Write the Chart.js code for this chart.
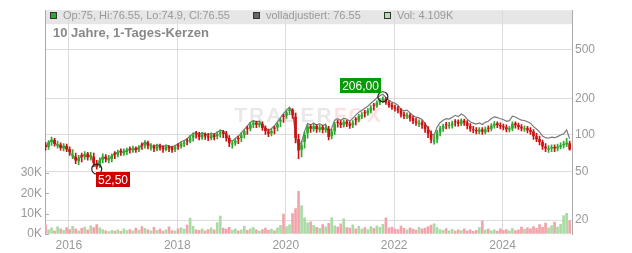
<!DOCTYPE html>
<html>
<head>
<meta charset="utf-8">
<script src="https://cdn.jsdelivr.net/npm/chart.js@4.4.1/dist/chart.umd.min.js"></script>
<style>
  body { margin: 0; background: #fff; }
  #wrap { position: relative; width: 632px; height: 253px; font-family: 'Liberation Sans', Arial, sans-serif; }
  #c { position: absolute; left: 0; top: 0; }
  .lg { position: absolute; top: 9px; font-size: 11px; line-height: 12px; color: #999; white-space: nowrap; }
  .sq { display: inline-block; width: 5px; height: 5px; border: 1px solid #333; margin-right: 6px; vertical-align: 0; }
  #title { position: absolute; left: 53px; top: 25px; font-size: 13px; line-height: 15px; font-weight: bold; color: #888; }
</style>
</head>
<body>
<div id="wrap">
  <canvas id="c" width="632" height="253"></canvas>
  <div class="lg" style="left:50px"><span class="sq" style="background:#2ea82e"></span>Op:75, Hi:76.55, Lo:74.9, Cl:76.55</div>
  <div class="lg" style="left:253px"><span class="sq" style="background:#666"></span>volladjustiert: 76.55</div>
  <div class="lg" style="left:384px"><span class="sq" style="background:#b2e0ac"></span>Vol: 4.109K</div>
  <div id="title">10 Jahre, 1-Tages-Kerzen</div>
</div>
<script>
// one candle every ~20 days, starting mid 2015
const startYear = 2015.57;
const stepYears = 1 / 18;

const yearTicks = [2016, 2018, 2020, 2022, 2024];
const priceTicks = [20, 50, 100, 200, 500];
const volumeTicks = [0, 10000, 20000, 30000];

const open = [
  82,80,88,91,82,83,78,81,76,67, 66,61,68,66,70,66,66,58,56,63,
  66,62,64,71,69,74,71,73,77,75, 78,76,83,82,86,79,80,77,81,78,
  76,80,78,77,82,81,85,90,89,96, 102,100,96,101,97,95,100,98,103,106,
  102,94,84,86,94,95,101,114,113,122, 126,121,123,114,106,104,114,116,130,143,
  145,158,160,140,92,76,88,104,117,112, 118,111,116,110,112,98,108,127,125,121,
  128,123,121,135,133,143,153,151,160,176, 174,186,193,197,184,175,168,164,158,147,
  142,144,137,129,124,126,120,110,101,89, 93,106,114,122,119,121,129,127,124,130,
  126,118,111,109,107,110,106,114,113,120, 124,120,117,115,111,114,124,120,116,112,
  113,109,106,97,92,87,80,76,78,79, 78,80,83,84,85
];
const high = [
  87,90,96,94,89,86,85,84,80,76, 71,68,71,73,72,72,71,62,65,70,
  69,68,70,73,75,77,77,78,80,81, 80,82,86,90,89,85,83,84,84,82,
  83,82,81,82,85,88,90,93,99,104, 107,105,105,104,103,104,103,106,110,109,
  107,99,90,93,98,104,111,118,127,131, 130,130,128,119,112,112,118,127,137,148,
  158,168,165,151,101,89,106,121,122,123, 122,121,120,120,118,112,127,132,131,133,
  132,129,131,139,148,153,159,165,174,182, 191,200,206,203,192,183,176,172,165,154,
  152,150,143,137,133,131,126,117,108,99, 109,118,123,127,127,130,134,133,136,135,
  131,124,118,115,115,115,116,119,124,129, 128,126,123,121,118,128,128,125,122,119,
  118,115,111,103,98,91,85,82,83,83, 84,86,89,94,89
];
const low = [
  75,76,82,81,78,75,74,73,68,64, 58,57,60,63,62,62,55,52.5,54,59,
  60,59,60,64,66,68,68,69,71,72, 72,73,76,78,77,75,73,74,75,72,
  74,73,72,73,76,78,80,83,86,89, 94,91,92,92,90,91,91,93,96,95,
  89,80,78,82,85,88,94,101,108,115, 115,116,109,101,97,98,102,108,117,127,
  137,147,137,86,64,66,78,94,105,107, 105,106,104,105,91,93,101,116,115,116,
  117,113,115,121,128,136,140,145,152,160, 168,177,184,178,168,162,157,152,140,136,
  136,130,124,120,117,113,105,95,86,84, 86,98,107,112,113,114,118,118,119,120,
  112,107,104,102,102,101,102,106,108,114, 115,112,110,106,106,108,114,111,108,107,
  104,101,92,88,83,76,73,72,73,73, 74,77,78,80,74.9
];
const close = [
  80,86,91,85,83,79,81,77,73,68, 62,64,67,69,66,68,59,55,62,66,
  64,63,67,70,72,73,72,75,76,77, 76,79,82,86,82,80,78,80,79,77,
  79,78,76,79,81,84,86,89,94,99, 101,97,100,98,96,99,97,101,104,103,
  95,86,85,89,93,99,106,113,121,125, 122,124,115,108,103,107,113,122,132,142,
  152,160,146,95,75,82,100,116,113,117, 112,115,111,114,97,106,122,126,122,127,
  124,120,126,134,142,146,152,158,167,175, 184,192,198,186,176,170,166,160,148,144,
  145,138,131,127,125,121,112,103,92,90, 104,113,118,121,120,124,128,125,131,127,
  119,113,110,108,110,107,111,113,119,123, 121,118,116,112,113,123,121,117,114,113,
  110,107,98,93,88,81,78,77,79,78, 80,82,84,86,76.5
];
const adjusted = [
  80,86,91,85,83,79,81,77,73,68, 62,64,67,69,66,68,59,55,62,66,
  64,63,67,70,72,73,72,75,76,77, 76,79,82,88,84,82,80.5,82.5,82,80,
  82,81,79,82,84.5,88,90,93,98,103, 105,101,104,102,100,103,101,105.5,109,108,
  99.5,90,89,93.5,98,104,111,119,127,131, 128,130,121,114,108.5,113,119,128.5,139,150,
  160,169,154,101,80,87.5,107,124,121,125.5, 120,124,119.5,123,104.5,114,132,136,132,137.5,
  134.5,130,137,145.5,154,159,165.5,172,182,191, 201,210,216,203,192.5,186,182,175.5,162.5,158,
  160,152,144.5,140,138,134,124,114,102,100, 116,126,132,136,135,140,145,141.5,148.5,144,
  135,128.5,125,123,125.5,122,127,129.5,136.5,141, 139,136,134,129.5,131,142.5,140.5,136,132.5,131.5,
  128.5,125,117,112,106,98,95,94,96,95, 97,100,102,110,93
];
const volumeK = [
  4.5,2.0,3.0,1.5,3.5,2.5,1.8,3.2,2.2,3.8, 2.5,1.6,2.8,3.4,2.0,4.0,3.1,4.6,3.0,2.2,
  1.5,1.2,1.8,1.4,2.0,1.3,2.6,1.7,2.2,1.5, 2.9,1.9,3.6,2.8,2.1,1.6,3.3,1.8,2.4,1.4,
  2.0,3.5,1.7,1.5,2.6,3.0,2.4,4.4,7.8,3.8, 2.0,1.8,2.5,1.6,2.2,3.0,2.1,5.6,8.8,2.9,
  2.4,3.3,1.9,2.6,1.5,2.0,3.9,1.8,2.5,3.2, 2.0,1.4,2.2,2.9,1.8,2.4,1.6,3.0,4.2,9.8,
  3.6,4.5,10.0,12.5,21.0,14.0,8.0,5.5,6.0,4.2, 3.3,2.8,4.6,3.5,5.2,8.0,4.0,3.4,5.0,7.5,
  3.2,2.9,4.5,2.6,3.8,2.4,3.1,2.2,3.6,2.8, 4.0,3.3,4.8,8.0,3.0,3.4,2.6,2.2,3.9,2.8,
  2.0,3.0,2.4,1.9,3.3,2.5,2.9,3.6,4.4,5.0, 3.1,2.2,1.8,2.7,1.6,2.3,1.4,2.0,1.7,2.5,
  1.5,2.1,1.3,1.8,3.2,6.5,1.9,2.4,1.6,2.0, 1.4,2.6,1.8,2.2,1.5,2.8,1.7,2.1,3.4,2.3,
  3.0,2.5,3.7,2.8,4.6,3.3,5.4,3.0,4.1,5.8, 3.4,4.7,9.0,10.2,6.5
];

const upColor = '#2ea82e';
const downColor = '#cc1111';
const times = close.map((c, i) => startYear + i * stepYears);
const isUp = close.map((c, i) => c >= open[i]);
const candleColors = isUp.map(u => u ? upColor : downColor);
const volColors = isUp.map(u => u ? '#a9dba3' : '#f2a3ab');

Chart.defaults.font.family = "'Liberation Sans', Arial, sans-serif";
Chart.defaults.font.size = 12;
Chart.defaults.color = '#999';

const fmt = v => v.toFixed(2).replace('.', ',');

const decor = {
  id: 'decor',
  beforeDraw(chart) {
    const ctx = chart.ctx, a = chart.chartArea;
    ctx.save();
    ctx.fillStyle = '#e6e6e6';
    ctx.fillRect(a.left, a.top, a.right - a.left, 14);
    ctx.restore();
  },
  beforeDatasetsDraw(chart) {
    // faint watermark
    const ctx = chart.ctx, a = chart.chartArea;
    ctx.save();
    ctx.font = "bold 21px 'Liberation Sans', Arial";
    ctx.letterSpacing = '2px';
    ctx.textBaseline = 'middle';
    const w1 = ctx.measureText('TRADER').width, w2 = ctx.measureText('FOX').width;
    const x0 = (a.left + a.right) / 2 - (w1 + w2) / 2;
    const y0 = 116;
    ctx.fillStyle = 'rgba(0,0,0,0.09)';
    ctx.fillText('TRADER', x0, y0);
    ctx.fillStyle = 'rgba(225,40,40,0.14)';
    ctx.fillText('FOX', x0 + w1, y0);
    ctx.restore();
  },
  afterDatasetsDraw(chart) {
    const ctx = chart.ctx, xs = chart.scales.x, ys = chart.scales.y;
    let hi = 0, lo = 0;
    high.forEach((v, i) => { if (v > high[hi]) hi = i; });
    low.forEach((v, i) => { if (v < low[lo]) lo = i; });
    const mark = (i, val, bg, above) => {
      const cx = xs.getPixelForValue(times[i]);
      const cy = ys.getPixelForValue(val);
      ctx.save();
      ctx.beginPath();
      ctx.arc(cx, cy, 5, 0, Math.PI * 2);
      ctx.strokeStyle = '#222';
      ctx.lineWidth = 1.2;
      ctx.stroke();
      ctx.font = "12px 'Liberation Sans', Arial";
      const txt = fmt(val);
      const w = Math.round(ctx.measureText(txt).width) + 4, h = 15;
      const bx = above ? Math.round(cx - 2 - w) : Math.round(cx - 1);
      const by = above ? Math.round(cy - 4 - h) : Math.round(cy + 3);
      ctx.fillStyle = bg;
      ctx.fillRect(bx, by, w, h);
      ctx.fillStyle = '#fff';
      ctx.textAlign = 'center';
      ctx.textBaseline = 'middle';
      ctx.fillText(txt, bx + w / 2, by + h / 2 + 1);
      ctx.restore();
    };
    mark(hi, high[hi], '#0a990a', true);
    mark(lo, low[lo], '#cc0000', false);
  },
  afterDraw(chart) {
    const ctx = chart.ctx, a = chart.chartArea, yv = chart.scales.yv;
    ctx.save();
    ctx.strokeStyle = '#aaa';
    ctx.lineWidth = 1;
    volumeTicks.forEach(v => {
      const py = Math.round(yv.getPixelForValue(v)) + 0.5;
      ctx.beginPath();
      ctx.moveTo(a.left, py);
      ctx.lineTo(a.left + 4, py);
      ctx.stroke();
    });
    ctx.restore();
  }
};

new Chart(document.getElementById('c'), {
  type: 'bar',
  data: {
    datasets: [
      {
        label: 'Vol',
        data: volumeK.map((v, i) => ({ x: times[i], y: v * 1000 })),
        yAxisID: 'yv',
        backgroundColor: volColors,
        barThickness: 2,
        grouped: false,
        order: 4
      },
      {
        type: 'line',
        label: 'volladjustiert',
        data: adjusted.map((v, i) => ({ x: times[i], y: v })),
        yAxisID: 'y',
        borderColor: '#7a7a7a',
        borderWidth: 1.2,
        pointRadius: 0,
        order: 3
      },
      {
        label: 'wick',
        data: low.map((l, i) => ({ x: times[i], y: [l, high[i]] })),
        yAxisID: 'y',
        backgroundColor: candleColors,
        barThickness: 1,
        grouped: false,
        order: 2
      },
      {
        label: 'body',
        data: open.map((o, i) => ({ x: times[i], y: [o, close[i]] })),
        yAxisID: 'y',
        backgroundColor: candleColors,
        barThickness: 2,
        grouped: false,
        order: 1
      }
    ]
  },
  options: {
    responsive: false,
    devicePixelRatio: 1,
    animation: false,
    layout: { padding: { top: 8, left: 0, right: 0, bottom: 0 } },
    plugins: { legend: { display: false }, tooltip: { enabled: false } },
    scales: {
      x: {
        type: 'linear',
        min: 2015.56,
        max: 2025.28,
        offset: false,
        afterBuildTicks: s => { s.ticks = yearTicks.map(v => ({ value: v })); },
        afterFit: s => { s.height = 19; },
        grid: { color: '#dcdcdc', drawTicks: false, offset: false },
        border: { display: false },
        ticks: { padding: 4, maxRotation: 0, autoSkip: false, callback: v => String(v) }
      },
      y: {
        type: 'logarithmic',
        position: 'right',
        min: 15.38,
        max: 1058,
        afterBuildTicks: s => { s.ticks = priceTicks.map(v => ({ value: v })); },
        afterFit: s => { s.width = 60; },
        grid: { color: '#dcdcdc', drawTicks: false },
        border: { color: '#aaa' },
        ticks: { padding: 3, callback: v => String(v) }
      },
      yv: {
        type: 'linear',
        position: 'left',
        min: 0,
        max: 110000,
        afterBuildTicks: s => { s.ticks = volumeTicks.map(v => ({ value: v })); },
        afterFit: s => { s.width = 45; },
        grid: { drawOnChartArea: false, drawTicks: false },
        border: { color: '#aaa' },
        ticks: { padding: 3, callback: v => (v / 1000) + 'K' }
      }
    }
  },
  plugins: [decor]
});
</script>
</body>
</html>
